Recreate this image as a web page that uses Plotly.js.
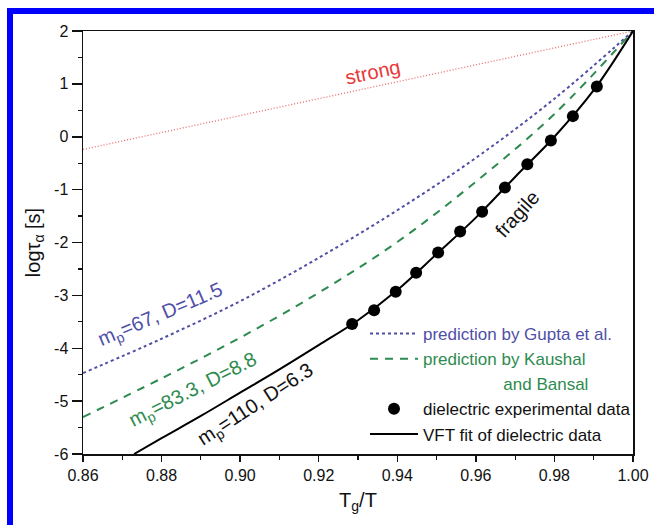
<!DOCTYPE html>
<html>
<head>
<meta charset="utf-8">
<script src="https://cdn.plot.ly/plotly-3.0.1.min.js"></script>
<style>
html,body{margin:0;padding:0;background:#fff;}
#chart{width:654px;height:525px;}
</style>
</head>
<body>
<div id="chart"></div>
<script>
// ---- data ----
const xStrong = [0.86, 1.00];
const yStrong = [-0.24, 2.00];

const xGupta = [0.86, 0.88, 0.90, 0.92, 0.94, 0.96, 0.98, 1.00];
const yGupta = [-4.47, -3.82, -3.11, -2.29, -1.39, -0.40, 0.72, 2.00];

const xKaushal = [0.86, 0.88, 0.90, 0.92, 0.94, 0.96, 0.98, 1.00];
const yKaushal = [-5.30, -4.57, -3.80, -2.95, -1.99, -0.85, 0.43, 2.00];

const xFit = [0.873, 0.88, 0.89, 0.90, 0.91, 0.92, 0.93, 0.94, 0.95, 0.96, 0.97, 0.98, 0.99, 1.00];
const yFit = [-6.00, -5.70, -5.28, -4.84, -4.40, -3.94, -3.47, -2.90, -2.22, -1.53, -0.76, 0.00, 0.88, 2.00];

const xDots = [0.9285, 0.9341, 0.9396, 0.9448, 0.9504, 0.9560, 0.9616, 0.9674, 0.9731, 0.9791, 0.9847, 0.9908];
const yDots = [-3.54, -3.28, -2.93, -2.57, -2.19, -1.79, -1.42, -0.96, -0.52, -0.07, 0.39, 0.95];

const xTickVals = [0.86, 0.88, 0.90, 0.92, 0.94, 0.96, 0.98, 1.00];
const xTickText = ["0.86", "0.88", "0.90", "0.92", "0.94", "0.96", "0.98", "1.00"];
const yTickVals = [-6, -5, -4, -3, -2, -1, 0, 1, 2];
const yTickText = ["-6", "-5", "-4", "-3", "-2", "-1", "0", "1", "2"];

const seriesNames = ["prediction by Gupta et al.", "prediction by Kaushal", "and Bansal",
                     "dielectric experimental data", "VFT fit of dielectric data"];
const curveLabels = ["strong", "fragile", "m<sub>p</sub>=67, D=11.5", "m<sub>p</sub>=83.3, D=8.8", "m<sub>p</sub>=110, D=6.3"];

// ---- styles ----
const FONT = "Liberation Sans, Arial, Helvetica, sans-serif";
const BLUE = "#4f4fa8";
const GREEN = "#2e8b50";
const RED = "#e8383a";

const traces = [
  {x: xStrong, y: yStrong, mode: "lines", line: {color: "#e86a6a", width: 1.3, dash: "1px,2px"},
   showlegend: false, hoverinfo: "skip"},
  {x: xGupta, y: yGupta, mode: "lines", line: {color: BLUE, width: 2, dash: "3px,3px", shape: "spline"},
   name: '<span style="color:' + BLUE + '">' + seriesNames[0] + '</span>', legendrank: 1, legendgroup: "a"},
  {x: xKaushal, y: yKaushal, mode: "lines", line: {color: GREEN, width: 2, dash: "8px,7px", shape: "spline"},
   name: '<span style="color:' + GREEN + '">' + seriesNames[1] + '</span>', legendrank: 2, legendgroup: "b"},
  // second line of the Kaushal legend entry (invisible carrier trace)
  {x: xKaushal, y: yKaushal, mode: "lines", line: {color: "rgba(0,0,0,0)", width: 0.1}, hoverinfo: "skip",
   name: '<span style="color:' + GREEN + '">' + "\u00a0".repeat(17) + seriesNames[2] + '</span>', legendrank: 3, legendgroup: "c"},
  {x: xFit, y: yFit, mode: "lines", line: {color: "#000", width: 2, shape: "spline"},
   name: seriesNames[4], legendrank: 5, legendgroup: "e"},
  {x: xDots, y: yDots, mode: "markers", marker: {color: "#000", size: 12},
   name: seriesNames[3], legendrank: 4, legendgroup: "d"}
];

const px2x = (px) => 0.86 + (px - 83) / 550 * 0.14;
const px2y = (py) => 2 - (py - 31) / 423 * 8;

const annotations = [
  {x: px2x(373), y: px2y(72), text: curveLabels[0], textangle: -12, font: {color: RED, size: 20}},
  {x: px2x(517), y: px2y(214), text: curveLabels[1], textangle: -48, font: {color: "#111", size: 20}},
  {x: px2x(160), y: px2y(315), text: curveLabels[2], textangle: -23, font: {color: BLUE, size: 20}},
  {x: px2x(193), y: px2y(390), text: curveLabels[3], textangle: -27, font: {color: GREEN, size: 20}},
  {x: px2x(255), y: px2y(405), text: curveLabels[4], textangle: -33, font: {color: "#111", size: 20}}
].map(a => Object.assign({xref: "x", yref: "y", showarrow: false}, a));

const shapes = [
  {type: "rect", xref: "paper", yref: "paper", x0: (7 - 83) / 550, x1: (13 - 83) / 550,
   y0: (454 - 530) / 423, y1: (454 - 8) / 423, fillcolor: "#0000ff", line: {width: 0}, layer: "above"},
  {type: "rect", xref: "paper", yref: "paper", x0: (7 - 83) / 550, x1: (660 - 83) / 550,
   y0: (454 - 14) / 423, y1: (454 - 8) / 423, fillcolor: "#0000ff", line: {width: 0}, layer: "above"}
];

const layout = {
  width: 654, height: 525,
  margin: {l: 83, r: 21, t: 31, b: 71},
  paper_bgcolor: "#fff", plot_bgcolor: "#fff",
  font: {family: FONT, color: "#111", size: 16},
  showlegend: true,
  legend: {x: (365 - 83) / 550, y: (454 - 316) / 423, xanchor: "left", yanchor: "top",
           bgcolor: "rgba(0,0,0,0)", font: {size: 17, family: FONT, color: "#111"},
           itemwidth: 48, tracegroupgap: 0, traceorder: "grouped"},
  xaxis: {range: [0.86, 1.00], tickmode: "array", tickvals: xTickVals, ticktext: xTickText,
          ticks: "outside", ticklen: 6, tickwidth: 1.5, tickcolor: "#111",
          showline: true, linecolor: "#111", linewidth: 1.5, mirror: true,
          showgrid: false, zeroline: false,
          minor: {tickmode: "linear", tick0: 0.86, dtick: 0.01, ticks: "outside", ticklen: 4, tickwidth: 1.2, tickcolor: "#111"},
          tickfont: {size: 16},
          title: {text: "T<sub>g</sub>/T", font: {size: 20}, standoff: 10}},
  yaxis: {range: [-6, 2], tickmode: "array", tickvals: yTickVals, ticktext: yTickText,
          ticks: "outside", ticklen: 10, tickwidth: 1.5, tickcolor: "#111",
          showline: true, linecolor: "#111", linewidth: 1.5, mirror: true,
          showgrid: false, zeroline: false,
          minor: {tickmode: "linear", tick0: -6, dtick: 0.5, ticks: "outside", ticklen: 4, tickwidth: 1.2, tickcolor: "#111"},
          tickfont: {size: 16},
          title: {text: "logτ<sub>α</sub> [s]", font: {size: 20}, standoff: 8}},
  annotations: annotations,
  shapes: shapes
};

Plotly.newPlot("chart", traces, layout, {displayModeBar: false, staticPlot: true});
</script>
</body>
</html>
